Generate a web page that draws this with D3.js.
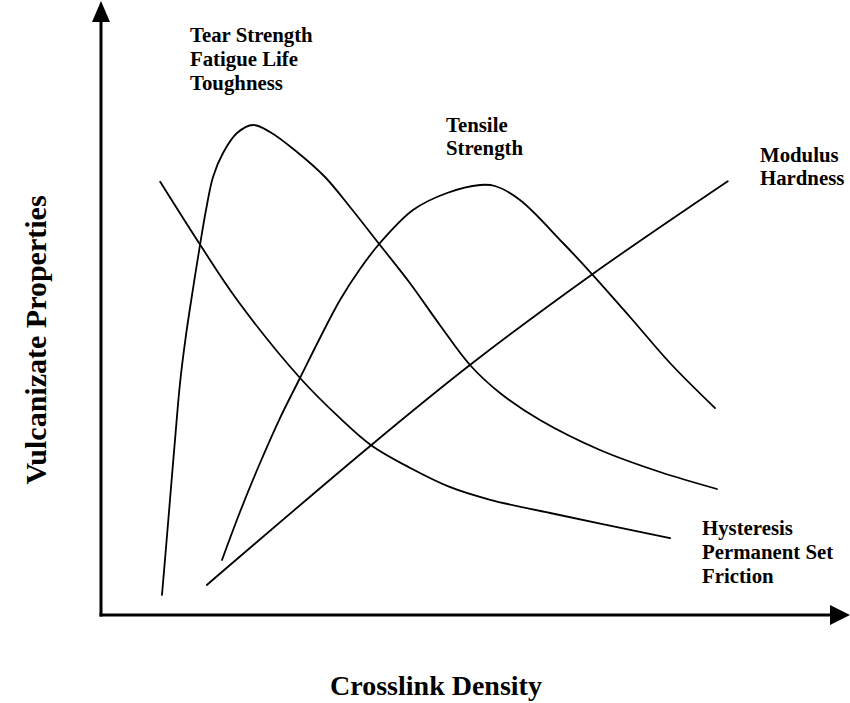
<!DOCTYPE html>
<html>
<head>
<meta charset="utf-8">
<script src="https://cdn.jsdelivr.net/npm/d3@7"></script>
<style>
  html, body { margin: 0; padding: 0; background: #fff; }
  svg { display: block; }
  text { font-family: "Liberation Serif", "Times New Roman", serif; font-weight: bold; fill: #000; }
</style>
</head>
<body>
<svg id="chart" width="850" height="703"></svg>
<script>
// ---- data (x: crosslink density, y: property level, arbitrary 0-100 units) ----
const tearX = [8.24, 8.78, 9.32, 10.0, 10.68, 11.49, 12.30, 13.38, 14.19, 15.14, 16.49, 18.38, 20.54, 22.84, 26.49, 30.27, 33.65, 37.70, 41.76, 45.81, 49.86, 53.92, 59.32, 67.43, 75.54, 83.24];
const tearY = [3.33, 11.17, 19.17, 29.17, 38.67, 46.67, 53.33, 61.67, 67.5, 73.0, 77.0, 80.33, 81.67, 80.5, 77.17, 73.0, 68.0, 61.67, 55.3, 48.3, 41.67, 37.0, 32.5, 27.5, 23.83, 21.0];

const tensileX = [16.35, 18.78, 21.49, 24.19, 26.89, 29.59, 32.30, 35.0, 37.70, 42.16, 46.76, 51.22, 53.24, 56.62, 62.43, 66.35, 71.49, 76.89, 82.97];
const tensileY = [9.17, 17.17, 25.33, 32.83, 39.5, 46.17, 52.5, 57.67, 62.0, 67.5, 70.33, 71.67, 71.5, 69.17, 62.0, 56.83, 49.67, 42.0, 34.5];

const modulusX = [14.3, 36.5, 49.9, 66.4, 84.7];
const modulusY = [5.0, 28.3, 41.7, 56.8, 72.3];

const hysteresisX = [8.0, 13.4, 18.4, 26.9, 32.3, 36.5, 41.8, 47.2, 52.6, 60.7, 76.9];
const hysteresisY = [72.2, 61.7, 52.5, 39.5, 32.8, 28.3, 24.5, 21.3, 19.2, 17.0, 12.8];

const seriesNames = ["Tear Strength", "Tensile Strength", "Modulus", "Hysteresis"];
const tearLabel = ["Tear Strength", "Fatigue Life", "Toughness"];
const tensileLabel = ["Tensile", "Strength"];
const modulusLabel = ["Modulus", "Hardness"];
const hysteresisLabel = ["Hysteresis", "Permanent Set", "Friction"];
const xTitle = "Crosslink Density";
const yTitle = "Vulcanizate Properties";

// ---- drawing ----
const svg = d3.select("#chart");
const x = d3.scaleLinear().domain([0, 100]).range([101, 841]);
const y = d3.scaleLinear().domain([0, 100]).range([615, 15]);

const zip = (xs, ys) => xs.map((v, i) => [v, ys[i]]);
const series = [
  zip(tearX, tearY),
  zip(tensileX, tensileY),
  zip(modulusX, modulusY),
  zip(hysteresisX, hysteresisY)
];

const line = d3.line()
  .x(d => x(d[0]))
  .y(d => y(d[1]))
  .curve(d3.curveCatmullRom.alpha(0.5));

svg.append("g").selectAll("path")
  .data(series)
  .join("path")
  .attr("d", line)
  .attr("fill", "none")
  .attr("stroke", "#000")
  .attr("stroke-width", 1.8)
  .attr("stroke-linecap", "round")
  .attr("stroke-linejoin", "round");

// axes with arrowheads
const x0 = x(0), y0 = y(0);
const xEnd = x.range()[1], yEnd = y.range()[1];
const axes = svg.append("g");
axes.append("line")
  .attr("x1", x0).attr("y1", y0 + 1.5)
  .attr("x2", x0).attr("y2", yEnd + 5)
  .attr("stroke", "#000").attr("stroke-width", 3);
axes.append("line")
  .attr("x1", x0 - 1.5).attr("y1", y0)
  .attr("x2", xEnd - 8).attr("y2", y0)
  .attr("stroke", "#000").attr("stroke-width", 3);
axes.append("path")
  .attr("d", `M${x0},${yEnd - 14} L${x0 - 9},${yEnd + 7} L${x0 + 9},${yEnd + 7} Z`)
  .attr("fill", "#000");
axes.append("path")
  .attr("d", `M${xEnd + 9},${y0} L${xEnd - 11},${y0 - 10} L${xEnd - 11},${y0 + 10} Z`)
  .attr("fill", "#000");

// series labels
function label(lines, px, py, lh) {
  const t = svg.append("text")
    .attr("font-size", 20.8)
    .attr("x", px).attr("y", py);
  t.selectAll("tspan").data(lines).join("tspan")
    .attr("x", px)
    .attr("dy", (d, i) => i === 0 ? 0 : lh)
    .text(d => d);
}
label(tearLabel, 190, 42, 24);
label(tensileLabel, 446, 132, 23);
label(modulusLabel, 760, 162, 23);
label(hysteresisLabel, 702, 535, 24);

// axis titles
svg.append("text")
  .attr("x", 436).attr("y", 695)
  .attr("text-anchor", "middle")
  .attr("font-size", 28)
  .text(xTitle);
svg.append("text")
  .attr("transform", "translate(46,340) rotate(-90)")
  .attr("text-anchor", "middle")
  .attr("font-size", 30)
  .text(yTitle);
</script>
</body>
</html>
